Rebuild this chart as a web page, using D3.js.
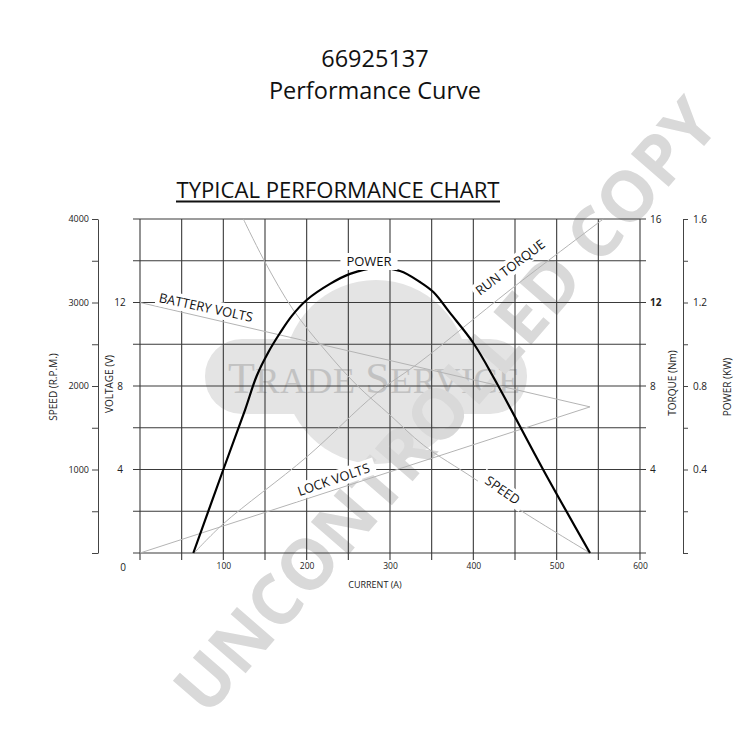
<!DOCTYPE html>
<html><head><meta charset="utf-8">
<script src="https://cdn.jsdelivr.net/npm/d3@7"></script>
<style>
html,body{margin:0;padding:0;background:#fff;}
svg{display:block;}
text{font-family:"Open Sans","DejaVu Sans",sans-serif;}
</style></head><body>
<svg id="chart" width="750" height="750"></svg>
<script>
// ---- data ----
const currentTicks = [100, 200, 300, 400, 500, 600];
const currentGrid = [0, 50, 100, 150, 200, 250, 300, 350, 400, 450, 500, 550, 600];
const speedTicks = [0, 500, 1000, 1500, 2000, 2500, 3000, 3500, 4000];
const speedLabels = [1000, 2000, 3000, 4000];
const voltageTicks = [4, 8, 12];
const levelGrid = [0, 2, 4, 6, 8, 10, 12, 14, 16];
const torqueTicks = [4, 8, 12, 16];
const powerTicks = [0, 0.2, 0.4, 0.6, 0.8, 1.0, 1.2, 1.4, 1.6];
const powerLabels = [0.4, 0.8, 1.2, 1.6];

const powerCurrent = [64, 100, 126, 140, 154, 168, 182, 200, 228, 252, 282, 312, 336, 352, 372, 400, 426, 484, 540];
const powerKW      = [0, 0.40, 0.685, 0.848, 0.962, 1.054, 1.135, 1.212, 1.289, 1.337, 1.365, 1.351, 1.298, 1.25, 1.15, 1.006, 0.829, 0.398, 0];

const speedCurrent = [124, 150, 184, 222, 260, 300, 340, 400, 456, 540];
const speedRPM     = [4000, 3485, 2910, 2431, 2012, 1653, 1293, 898, 515, 0];

const torqueCurrent = [65, 100, 200, 284, 336, 444, 556];
const torqueNm      = [0, 1.4, 4.6, 7.66, 9.15, 12.6, 16];

const batteryCurrent = [0, 540];
const batteryVolts   = [12, 7.0];
const lockCurrent = [0, 540];
const lockVolts   = [0, 7.0];

// ---- drawing ----
const svg = d3.select("#chart");
const x  = d3.scaleLinear().domain([0, 600]).range([140, 640]);
const yV = d3.scaleLinear().domain([0, 16]).range([553, 219]);
const yS = d3.scaleLinear().domain([0, 4000]).range([553, 219]);
const yT = d3.scaleLinear().domain([0, 16]).range([553, 219]);
const yP = d3.scaleLinear().domain([0, 1.6]).range([553, 219]);

// watermarks (beneath)
const wm = svg.append("g");
wm.append("circle").attr("cx", 376).attr("cy", 372).attr("r", 92).attr("fill", "#e4e4e4");
wm.append("rect").attr("x", 205).attr("y", 339).attr("width", 322).attr("height", 75).attr("rx", 37).attr("fill", "#e4e4e4");
const ts = wm.append("text").attr("x", 228).attr("y", 393).attr("fill", "#c2c2c2")
  .style("font-family", "'Liberation Serif','DejaVu Serif',serif").attr("textLength", 292).attr("lengthAdjust", "spacing");
ts.append("tspan").attr("font-size", 44).text("T");
ts.append("tspan").attr("font-size", 36).text("RADE ");
ts.append("tspan").attr("font-size", 44).text("S");
ts.append("tspan").attr("font-size", 36).text("ERVICE");
wm.append("text").attr("transform", "translate(444,404) rotate(-49)")
  .attr("text-anchor", "middle").attr("dominant-baseline", "central")
  .attr("font-size", 70).attr("font-weight", 700).attr("fill", "#d9d9d9")
  .attr("textLength", 785).attr("lengthAdjust", "spacingAndGlyphs")
  .text("UNCONTROLLED COPY");

// titles
svg.append("text").attr("x", 375).attr("y", 67).attr("text-anchor", "middle").attr("font-size", 23.5).attr("fill", "#111").text("66925137");
svg.append("text").attr("x", 375).attr("y", 99).attr("text-anchor", "middle").attr("font-size", 23.5).attr("fill", "#111").text("Performance Curve");
svg.append("text").attr("x", 338).attr("y", 198).attr("text-anchor", "middle").attr("font-size", 21).attr("fill", "#111")
  .attr("textLength", 323).attr("lengthAdjust", "spacingAndGlyphs").text("TYPICAL PERFORMANCE CHART");
svg.append("line").attr("x1", 176).attr("x2", 500).attr("y1", 201.5).attr("y2", 201.5).attr("stroke", "#111").attr("stroke-width", 1.8);

// grid
const grid = svg.append("g").attr("stroke", "#3a3a3a").attr("stroke-width", 1.1);
grid.selectAll("line.h").data(levelGrid).join("line").attr("class", "h")
  .attr("x1", 133).attr("x2", 646).attr("y1", d => yV(d)).attr("y2", d => yV(d));
grid.selectAll("line.v").data(currentGrid).join("line").attr("class", "v")
  .attr("x1", d => x(d)).attr("x2", d => x(d)).attr("y1", yV(16)).attr("y2", 560);

// curves
const gray = "#b4b4b4";
function drawLine(xs, ys, yScale, color, width, curve) {
  const pts = xs.map((v, i) => [x(v), yScale(ys[i])]);
  svg.append("path").attr("d", d3.line().curve(curve || d3.curveLinear)(pts))
    .attr("fill", "none").attr("stroke", color).attr("stroke-width", width).attr("stroke-linejoin", "round");
}
drawLine(batteryCurrent, batteryVolts, yV, gray, 1);
drawLine(lockCurrent, lockVolts, yV, gray, 1);
drawLine(speedCurrent, speedRPM, yS, gray, 1, d3.curveCatmullRom);
drawLine(torqueCurrent, torqueNm, yT, gray, 1, d3.curveCatmullRom);
drawLine(powerCurrent, powerKW, yP, "#000", 2.2, d3.curveCatmullRom);

// curve labels with white background
function label(txt, cx, cy, angle, padX) {
  const g = svg.append("g").attr("transform", `translate(${cx},${cy}) rotate(${angle})`);
  const t = g.append("text").attr("text-anchor", "middle").attr("font-size", 13).attr("fill", "#111").text(txt);
  const b = t.node().getBBox();
  g.insert("rect", "text").attr("x", b.x - padX).attr("y", b.y + 1).attr("width", b.width + 2 * padX).attr("height", b.height - 1).attr("fill", "#fff");
}
label("POWER", 369, 266, 0, 6);
label("BATTERY VOLTS", 205, 312, 12, 3);
label("RUN TORQUE", 513, 271, -37, 3);
label("LOCK VOLTS", 335, 484, -19, 6);
label("SPEED", 500, 494, 35, 6);

// left speed axis
const sAxis = d3.axisLeft(yS).tickValues(speedTicks).tickSize(6).tickSizeOuter(0).tickPadding(3)
  .tickFormat(d => speedLabels.includes(d) ? d : "");
const sa = svg.append("g").attr("transform", "translate(98,0)").call(sAxis);
sa.selectAll("path,line").attr("stroke", "#444");
sa.selectAll("text").attr("font-size", 9).attr("fill", "#222").style("font-family", "'Open Sans',sans-serif");

// voltage labels
svg.selectAll("text.vl").data(voltageTicks).join("text").attr("class", "vl")
  .attr("x", 120).attr("y", d => yV(d) + 3.5).attr("text-anchor", "middle").attr("font-size", 10).attr("fill", "#222").text(d => d);
svg.append("text").attr("x", 123).attr("y", 571).attr("text-anchor", "middle").attr("font-size", 10).attr("fill", "#222").text("0");

// bottom axis labels
const xAxis = d3.axisBottom(x).tickValues(currentTicks).tickSize(0).tickPadding(10);
const xa = svg.append("g").attr("transform", "translate(0,553)").call(xAxis);
xa.select(".domain").remove();
xa.selectAll("text").attr("font-size", 8.5).attr("fill", "#222").style("font-family", "'Open Sans',sans-serif");

// torque labels
const tAxis = d3.axisRight(yT).tickValues(torqueTicks).tickSize(0).tickPadding(4);
const ta = svg.append("g").attr("transform", "translate(646,0)").call(tAxis);
ta.select(".domain").remove();
ta.selectAll("text").attr("font-size", 10).attr("fill", "#222").style("font-family", "'Open Sans',sans-serif")
  .attr("font-weight", d => d === 12 ? 700 : 400);

// power axis
const pAxis = d3.axisRight(yP).tickValues(powerTicks).tickSize(5).tickSizeOuter(0).tickPadding(5)
  .tickFormat(d => powerLabels.some(p => Math.abs(p - d) < 1e-9) ? d3.format(".1f")(d) : "");
const pa = svg.append("g").attr("transform", "translate(683,0)").call(pAxis);
pa.selectAll("path,line").attr("stroke", "#444");
pa.selectAll("text").attr("font-size", 10).attr("fill", "#222").style("font-family", "'Open Sans',sans-serif");

// axis titles
function vtitle(txt, cx, cy) {
  svg.append("text").attr("transform", `translate(${cx},${cy}) rotate(-90)`).attr("text-anchor", "middle")
    .attr("dominant-baseline", "central").attr("font-size", 10).attr("fill", "#222").text(txt);
}
vtitle("SPEED (R.P.M.)", 53, 387);
vtitle("VOLTAGE (V)", 109, 384);
vtitle("TORQUE (Nm)", 672, 383);
vtitle("POWER (KW)", 727, 387);
svg.append("text").attr("x", 375).attr("y", 588).attr("text-anchor", "middle").attr("font-size", 9).attr("fill", "#222").text("CURRENT (A)");
</script>
</body></html>
